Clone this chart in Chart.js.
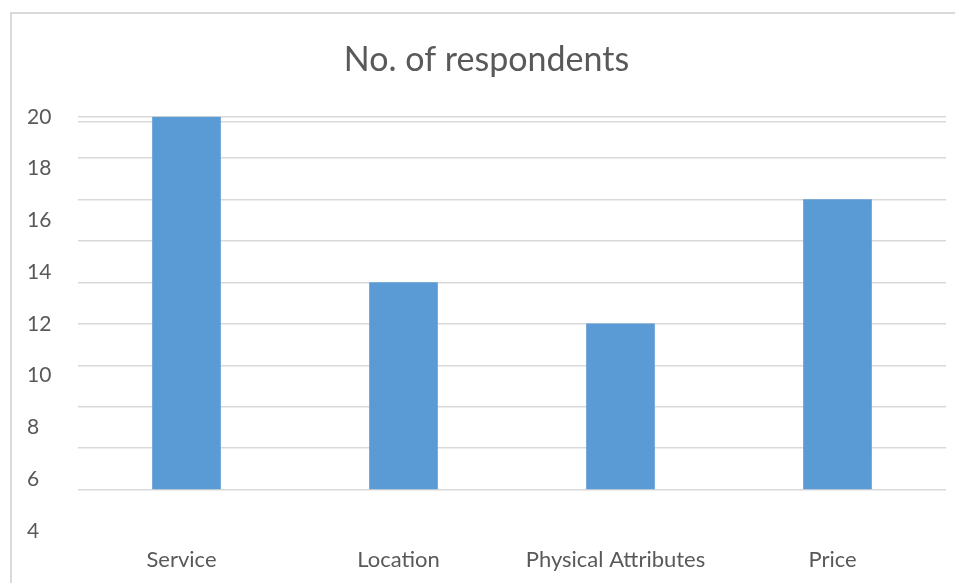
<!DOCTYPE html>
<html>
<head>
<meta charset="utf-8">
<script src="https://cdn.jsdelivr.net/npm/chart.js@4/dist/chart.umd.min.js"></script>
<style>
  html,body{margin:0;padding:0;background:#fff;overflow:hidden;}
  .frame{position:absolute;left:10px;top:12px;width:1000px;height:700px;border:2px solid #d9d9d9;box-sizing:border-box;}
  #c{position:absolute;left:0;top:0;}
</style>
</head>
<body>
<div class="frame"></div>
<canvas id="c" width="955" height="583"></canvas>
<script>
// chart values
const categories=['Service','Location','Physical Attributes','Price'];
const respondents=[20,12,10,16];
const barBase=2;
// the printed tick labels on the left
const labelMin=4,labelMax=20,labelStep=2;
// gridline scale
const gridMin=0,gridMax=20,gridStep=2,extraLine=19.76;

const INK='#595959',GRID='#d9d9d9',BAR='#5b9bd5';
const FONT='Lato, "Open Sans", sans-serif';

new Chart(document.getElementById('c'),{
  type:'bar',
  data:{labels:categories,datasets:[{data:respondents,base:barBase,backgroundColor:BAR,borderWidth:0,yAxisID:'y',
    barThickness:68}]},
  options:{
    responsive:false,animation:false,
    layout:{padding:{left:27,right:9,top:0,bottom:0}},
    plugins:{
      legend:{display:false},tooltip:{enabled:false},
      title:{display:true,text:'No. of respondents',color:INK,font:{family:FONT,size:34,weight:'normal',lineHeight:1.2},padding:{top:40,bottom:36}}
    },
    scales:{
      x:{grid:{display:false,drawTicks:false},border:{display:false},
        ticks:{color:INK,font:{family:FONT,size:22},padding:16,labelOffset:-5},
        afterFit:s=>{s.height=52;}},
      yl:{position:'left',min:labelMin,max:labelMax,grid:{display:false,drawTicks:false},border:{display:false},
        ticks:{stepSize:labelStep,color:INK,font:{family:FONT,size:21},crossAlign:'far',padding:0},
        afterFit:s=>{s.width=51;}},
      y:{position:'right',min:gridMin,max:gridMax,border:{display:false},
        grid:{color:c=>c.tick.value===0?'rgba(0,0,0,0)':GRID,lineWidth:1.5,drawTicks:false},
        ticks:{display:false,stepSize:gridStep},
        afterBuildTicks:s=>{s.ticks.push({value:extraLine});},
        afterFit:s=>{s.width=0;}}
    }
  }
});
</script>
</body>
</html>
